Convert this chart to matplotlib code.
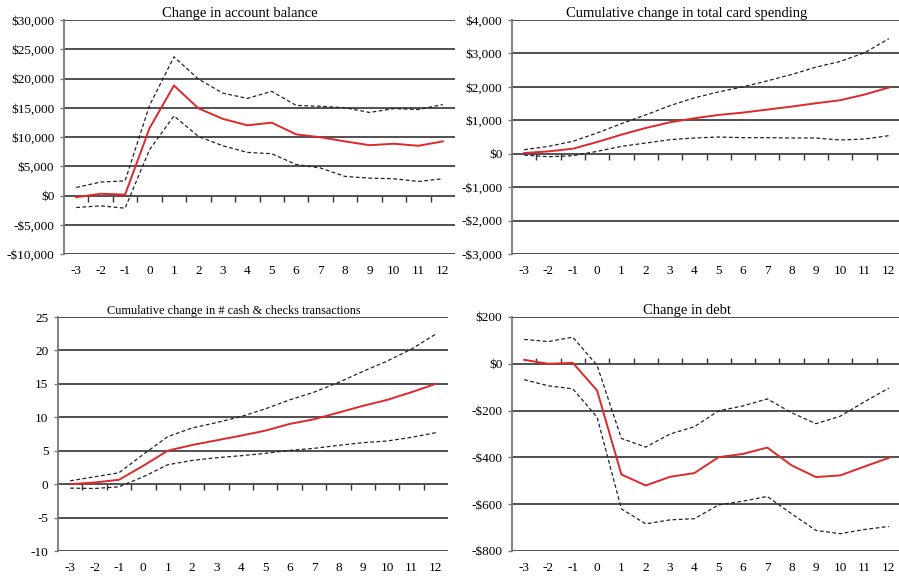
import matplotlib.pyplot as plt
from matplotlib.ticker import FuncFormatter

plt.rcParams['font.family'] = ['Liberation Serif', 'DejaVu Serif']
plt.rcParams['axes.unicode_minus'] = False

months = [-3, -2, -1, 0, 1, 2, 3, 4, 5, 6, 7, 8, 9, 10, 11, 12]

# Change in account balance
bal_mid = [-300, 300, 150, 11500, 18800, 14900, 13100, 12000, 12450, 10450, 9950,
           9250, 8600, 8850, 8500, 9250]
bal_hi = [1370, 2300, 2500, 15400, 23700, 19900, 17500, 16600, 17800, 15400, 15250,
          15000, 14200, 14850, 14700, 15550]
bal_lo = [-2050, -1770, -2170, 7830, 13600, 10100, 8500, 7370, 7140, 5300, 4700,
          3260, 2970, 2860, 2400, 2860]

# Cumulative change in total card spending
card_mid = [20, 70, 150, 350, 570, 770, 940, 1060, 1160, 1230, 1320, 1410, 1510,
            1600, 1770, 1980]
card_hi = [120, 220, 370, 620, 900, 1160, 1440, 1670, 1850, 2000, 2180, 2370, 2590,
           2760, 3020, 3440]
card_lo = [-40, -90, -60, 70, 220, 320, 420, 470, 500, 480, 480, 470, 470, 410,
           440, 540]

# Cumulative change in # cash & checks transactions
cash_mid = [0, 0.25, 0.65, 2.75, 5.0, 5.85, 6.55, 7.25, 8.0, 9.0, 9.7, 10.7, 11.7,
            12.6, 13.75, 15.0]
cash_hi = [0.5, 1.1, 1.7, 4.45, 7.1, 8.4, 9.2, 10.1, 11.25, 12.6, 13.75, 15.2,
           16.85, 18.4, 20.2, 22.45]
cash_lo = [-0.6, -0.65, -0.4, 1.1, 2.9, 3.55, 3.95, 4.25, 4.6, 5.05, 5.35, 5.8,
           6.2, 6.45, 7.0, 7.7]

# Change in debt
debt_mid = [17, 0, 4, -114, -473, -520, -483, -467, -399, -385, -358, -434, -484,
            -477, -439, -402]
debt_hi = [104, 95, 114, -7, -319, -356, -300, -269, -201, -180, -150, -209, -256,
           -224, -162, -104]
debt_lo = [-68, -94, -107, -228, -620, -684, -667, -662, -603, -587, -567, -641,
           -712, -726, -708, -695]


def dollars(v, pos):
    if v < 0:
        return '-${:,.0f}'.format(-v)
    return '${:,.0f}'.format(v)


def draw_panel(ax, title, mid, hi, lo, ylim, step, money, title_size):
    ymin, ymax = ylim
    ax.set_xlim(-3.5, 12.5)
    ax.set_ylim(ymin, ymax)
    yticks = list(range(ymin, ymax + 1, step))
    ax.set_yticks(yticks)
    for y in yticks:
        ax.axhline(y, color='#505050', lw=1.4, zorder=1)

    ax.plot(months, hi, color='#222222', lw=0.9, dashes=(3, 2), zorder=3)
    ax.plot(months, lo, color='#222222', lw=0.9, dashes=(3, 2), zorder=3)
    ax.plot(months, mid, color='#e0282a', lw=1.4, zorder=4)

    for s in ['top', 'right', 'bottom']:
        ax.spines[s].set_visible(False)
    ax.spines['left'].set_color('#777777')
    ax.spines['left'].set_linewidth(1.3)

    ax.set_xticks(months)
    ax.set_xticklabels([str(m) for m in months])
    ax.tick_params(axis='x', length=0, pad=8, labelsize=9.5)
    ax.tick_params(axis='y', length=3, width=1, color='#777777', pad=4, labelsize=9.5)
    if money:
        ax.yaxis.set_major_formatter(FuncFormatter(dollars))

    # category axis crossing at zero, with tick marks between the categories
    zero = (0 - ymin) / (ymax - ymin)
    sec = ax.secondary_xaxis(zero)
    sec.set_xticks([m + 0.5 for m in months[:-1]])
    sec.tick_params(length=4, width=1, color='#333333', labelbottom=False,
                    labeltop=False, direction='out')
    sec.spines['bottom'].set_visible(False)
    sec.spines['top'].set_visible(False)

    ax.set_title(title, fontsize=title_size, x=0.45, pad=1)


fig = plt.figure(figsize=(8.99, 5.78), dpi=100)
W, H = 899, 578

ax1 = fig.add_axes([64 / W, 1 - 254 / H, 391 / W, 234 / H])
ax2 = fig.add_axes([512 / W, 1 - 254 / H, 389 / W, 234 / H])
ax3 = fig.add_axes([58 / W, 1 - 551 / H, 390 / W, 234 / H])
ax4 = fig.add_axes([512 / W, 1 - 551 / H, 389 / W, 234 / H])

draw_panel(ax1, 'Change in account balance', bal_mid, bal_hi, bal_lo,
           (-10000, 30000), 5000, True, 10.5)
draw_panel(ax2, 'Cumulative change in total card spending', card_mid, card_hi, card_lo,
           (-3000, 4000), 1000, True, 10.5)
draw_panel(ax3, 'Cumulative change in # cash & checks transactions', cash_mid, cash_hi,
           cash_lo, (-10, 25), 5, False, 8.8)
draw_panel(ax4, 'Change in debt', debt_mid, debt_hi, debt_lo,
           (-800, 200), 200, True, 10.5)

fig.savefig('out.png', dpi=100)
